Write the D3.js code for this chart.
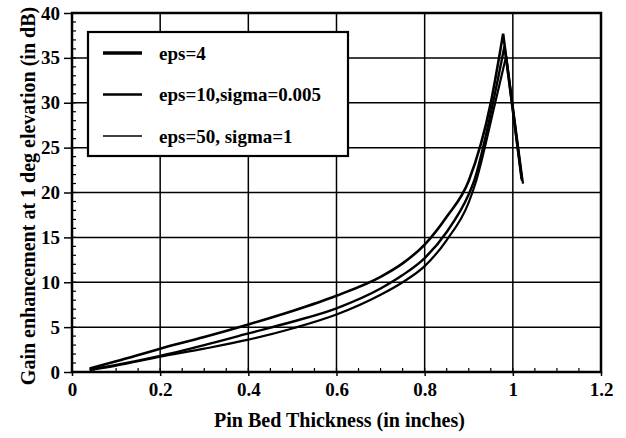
<!DOCTYPE html>
<html>
<head>
<meta charset="utf-8">
<script src="https://cdn.jsdelivr.net/npm/d3@7"></script>
<style>
  body { margin: 0; background: #fff; }
  text { font-family: "Liberation Serif", "DejaVu Serif", serif; font-weight: bold; fill: #000; }
</style>
</head>
<body>
<svg id="chart" width="626" height="438"></svg>
<script>
// series data
const seriesNames = ["eps=4", "eps=10,sigma=0.005", "eps=50, sigma=1"];
const thickX = [0.04, 0.1, 0.2, 0.3, 0.4, 0.5, 0.6, 0.7, 0.75, 0.8, 0.85, 0.9, 0.95, 0.978, 1.02];
const eps4Gain = [0.4, 1.2, 2.6, 3.9, 5.3, 6.8, 8.5, 10.6, 12.1, 14.2, 17.3, 21.3, 30, 37.7, 21.5];
const thickX10 = [0.04, 0.1, 0.2, 0.3, 0.4, 0.5, 0.6, 0.7, 0.75, 0.8, 0.85, 0.9, 0.91, 0.955, 0.981, 1.021];
const eps10Gain = [0.3, 0.8, 1.8, 3.0, 4.3, 5.6, 7.1, 9.3, 10.8, 12.7, 15.6, 19.8, 21, 30, 36.3, 21.3];
const thickX50 = [0.04, 0.1, 0.2, 0.3, 0.4, 0.5, 0.6, 0.7, 0.75, 0.8, 0.85, 0.9, 0.915, 0.96, 0.985, 1.023];
const eps50Gain = [0.2, 0.7, 1.7, 2.6, 3.6, 4.85, 6.4, 8.6, 10.0, 11.8, 14.7, 18.9, 21, 30, 35.2, 21];
const xTicks = [0, 0.2, 0.4, 0.6, 0.8, 1, 1.2];
const yTicks = [0, 5, 10, 15, 20, 25, 30, 35, 40];

const series = [
  { name: seriesNames[0], xs: thickX, ys: eps4Gain, w: 2.6, lw: 3.5 },
  { name: seriesNames[1], xs: thickX10, ys: eps10Gain, w: 2.4, lw: 2.4 },
  { name: seriesNames[2], xs: thickX50, ys: eps50Gain, w: 2.2, lw: 1.3 }
];

const svg = d3.select("#chart");
const margin = { top: 13, right: 25, bottom: 66, left: 72 };
const width = 626 - margin.left - margin.right;
const height = 438 - margin.top - margin.bottom;

const x = d3.scaleLinear().domain([0, 1.2]).range([0, width]);
const y = d3.scaleLinear().domain([0, 40]).range([height, 0]);

const g = svg.append("g").attr("transform", `translate(${margin.left},${margin.top})`);

// grid
g.selectAll(".vgrid").data(xTicks).enter().append("line")
  .attr("x1", d => x(d)).attr("x2", d => x(d))
  .attr("y1", 0).attr("y2", height)
  .attr("stroke", "#000").attr("stroke-width", 1.5);
g.selectAll(".hgrid").data(yTicks).enter().append("line")
  .attr("x1", 0).attr("x2", width)
  .attr("y1", d => y(d)).attr("y2", d => y(d))
  .attr("stroke", "#000").attr("stroke-width", 1.5);

// minor ticks (inward)
const xMinor = d3.range(0, 1.2001, 0.05);
const yMinor = d3.range(0, 40.001, 1);
g.selectAll(".xminor").data(xMinor).enter().append("line")
  .attr("x1", d => x(d)).attr("x2", d => x(d))
  .attr("y1", height).attr("y2", height - 4)
  .attr("stroke", "#000").attr("stroke-width", 1.2);
g.selectAll(".yminor").data(yMinor).enter().append("line")
  .attr("x1", 0).attr("x2", 4)
  .attr("y1", d => y(d)).attr("y2", d => y(d))
  .attr("stroke", "#000").attr("stroke-width", 1.2);

// axes
const xAxis = d3.axisBottom(x).tickValues(xTicks).tickSize(4).tickPadding(7)
  .tickFormat(d => d3.format("")(d));
const yAxis = d3.axisLeft(y).tickValues(yTicks).tickSize(8).tickPadding(4);

const gx = g.append("g").attr("transform", `translate(0,${height})`).call(xAxis);
const gy = g.append("g").call(yAxis);
[gx, gy].forEach(a => {
  a.select(".domain").remove();
  a.selectAll("line").attr("stroke", "#000").attr("stroke-width", 1.5);
  a.selectAll("text").style("font-size", "19px").style("font-family", "Liberation Serif").style("font-weight", "bold");
});

// plot frame
g.append("rect").attr("width", width).attr("height", height)
  .attr("fill", "none").attr("stroke", "#000").attr("stroke-width", 2.5);

// curves: smooth rise up to the peak, straight drop after it
const line = d3.line().x(d => x(d[0])).y(d => y(d[1])).curve(d3.curveMonotoneX);
series.forEach(s => {
  const pts = d3.zip(s.xs, s.ys);
  const rise = pts.slice(0, -1);
  const last = pts[pts.length - 1];
  g.append("path")
    .attr("d", line(rise) + `L${x(last[0])},${y(last[1])}`)
    .attr("fill", "none")
    .attr("stroke", "#000")
    .attr("stroke-width", s.w)
    .attr("stroke-linejoin", "miter");
});

// legend
const lg = svg.append("g").attr("transform", "translate(88,32)");
lg.append("rect").attr("width", 260).attr("height", 124)
  .attr("fill", "#fff").attr("stroke", "#000").attr("stroke-width", 2.2);
series.forEach((s, i) => {
  const yy = 21 + i * 41.5;
  lg.append("line").attr("x1", 15).attr("x2", 54).attr("y1", yy).attr("y2", yy)
    .attr("stroke", "#000").attr("stroke-width", s.lw);
  lg.append("text").attr("x", 71).attr("y", yy).attr("dy", "0.35em")
    .style("font-size", "19px").text(s.name);
});

// axis titles
svg.append("text")
  .attr("x", margin.left + width / 2 + 3).attr("y", 427)
  .attr("text-anchor", "middle").style("font-size", "20px")
  .text("Pin Bed Thickness (in inches)");
svg.append("text")
  .attr("transform", `translate(35,196) rotate(-90)`)
  .attr("text-anchor", "middle").style("font-size", "20px")
  .text("Gain enhancement at 1 deg elevation (in dB)");
</script>
</body>
</html>
